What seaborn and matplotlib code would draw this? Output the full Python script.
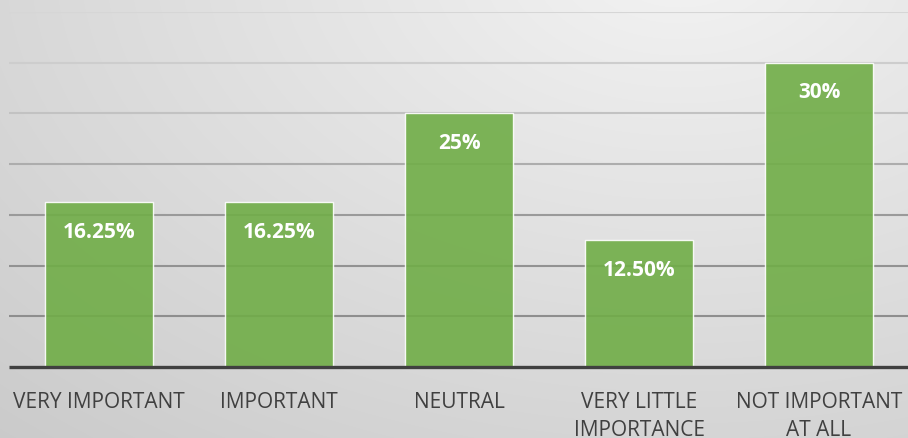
import numpy as np
import pandas as pd
import matplotlib
matplotlib.use("Agg")
import matplotlib.pyplot as plt
import seaborn as sns

# Survey responses: share of respondents per importance rating
categories = ["VERY IMPORTANT", "IMPORTANT", "NEUTRAL",
              "VERY LITTLE\nIMPORTANCE", "NOT IMPORTANT\nAT ALL"]
shares = [16.25, 16.25, 25, 12.5, 30]
value_labels = ["16.25%", "16.25%", "25%", "12.50%", "30%"]
grid_levels = [5, 10, 15, 20, 25, 30, 35]

sns.set_theme(style="white")
plt.rcParams["font.family"] = ["Open Sans", "DejaVu Sans"]

W, H = 908, 439
fig = plt.figure(figsize=(W / 100, H / 100), dpi=100)

# Soft gray radial backdrop, brightest toward the upper right
bg = fig.add_axes([0, 0, 1, 1], zorder=-10)
yy, xx = np.mgrid[0:H, 0:W]
dist = np.sqrt(((xx - 680) / 1.25) ** 2 + ((yy + 40) / 0.8) ** 2)
shade = np.clip(243 - 0.05 * dist, 200, 245) / 255.0
bg.imshow(np.dstack([shade] * 3), extent=[0, W, H, 0], aspect="auto",
          interpolation="bilinear")
bg.set_axis_off()

ax = fig.add_axes([9 / W, 71 / H, 900 / W, 355 / H])
ax.patch.set_alpha(0)

df = pd.DataFrame({"category": categories, "share": shares})

# Horizontal gridlines, darkening toward the baseline
line_cols = ["#d6d6d6", "#cdcdcd", "#c2c2c2", "#adadad", "#9a9a9a", "#929292", "#8e8e8e"]
for lvl, col in zip(sorted(grid_levels, reverse=True), line_cols):
    ax.axhline(lvl, color=col, lw=1.5, zorder=0)

sns.barplot(data=df, x="category", y="share", color="#70ad47", alpha=0.9,
            saturation=1, width=0.6, edgecolor=(1, 1, 1, 0.45),
            linewidth=1.0, ax=ax, zorder=2)

for i, (v, lab) in enumerate(zip(shares, value_labels)):
    ax.annotate(lab, xy=(i, v), xytext=(0, -25), textcoords="offset points",
                ha="center", va="baseline", color="white",
                fontsize=15, fontweight="bold", zorder=3)

ax.set_xlim(-0.5, 4.5)
ax.set_ylim(0, 35)
ax.set_yticks([])
ax.set_xlabel("")
ax.set_ylabel("")
for side in ["top", "right", "left"]:
    ax.spines[side].set_visible(False)
ax.spines["bottom"].set_color("#404040")
ax.spines["bottom"].set_linewidth(2.4)
ax.spines["bottom"].set_capstyle("butt")
ax.spines["bottom"].set_zorder(4)
ax.tick_params(axis="x", length=0, pad=17, labelsize=15, labelcolor="#404040")
for t in ax.get_xticklabels():
    t.set_linespacing(1.45)

fig.savefig("out.png", dpi=100)
